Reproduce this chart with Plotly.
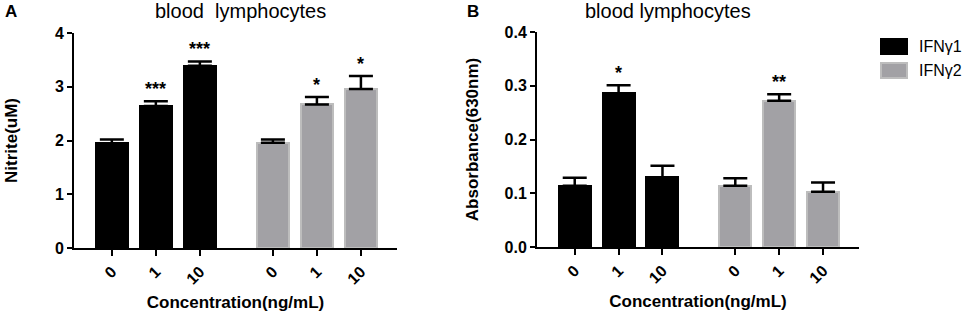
import plotly.graph_objects as go

# ---- data ----
categories = ["0", "1", "10"]
series_names = ["IFNγ1", "IFNγ2"]

nitrite_ifn1 = [1.95, 2.64, 3.39]
nitrite_ifn1_err = [0.07, 0.09, 0.08]
nitrite_ifn2 = [1.96, 2.67, 2.96]
nitrite_ifn2_err = [0.06, 0.14, 0.24]
nitrite_stars_ifn1 = ["", "***", "***"]
nitrite_stars_ifn2 = ["", "*", "*"]

abs_ifn1 = [0.114, 0.286, 0.130]
abs_ifn1_err = [0.015, 0.015, 0.021]
abs_ifn2 = [0.114, 0.272, 0.103]
abs_ifn2_err = [0.014, 0.012, 0.017]
abs_stars_ifn1 = ["", "*", ""]
abs_stars_ifn2 = ["", "**", ""]

# ---- style ----
FONT = "Arial, Liberation Sans, sans-serif"
BLACK = "#000000"
GRAY = "#a2a1a5"
GRAY_EDGE = "#bdbdbd"
GROUP_OFFSET = 3.66
BAR_W = 0.73

W, H = 966, 314
fig = go.Figure()

x1 = [i for i in range(len(categories))]
x2 = [i + GROUP_OFFSET for i in range(len(categories))]

panels = [
    dict(xa="x", ya="y", v1=nitrite_ifn1, e1=nitrite_ifn1_err, v2=nitrite_ifn2, e2=nitrite_ifn2_err,
         s1=nitrite_stars_ifn1, s2=nitrite_stars_ifn2),
    dict(xa="x2", ya="y2", v1=abs_ifn1, e1=abs_ifn1_err, v2=abs_ifn2, e2=abs_ifn2_err,
         s1=abs_stars_ifn1, s2=abs_stars_ifn2),
]

for p in panels:
    for xs, vals, errs, name, fill, edge in [
        (x1, p["v1"], p["e1"], series_names[0], BLACK, BLACK),
        (x2, p["v2"], p["e2"], series_names[1], GRAY, GRAY_EDGE),
    ]:
        fig.add_trace(go.Bar(
            x=xs, y=vals, width=BAR_W, name=name, showlegend=False,
            marker=dict(color=fill, line=dict(color=edge, width=2)),
            error_y=dict(type="data", array=errs, arrayminus=[0] * len(errs), symmetric=False,
                         color=BLACK, thickness=2.5, width=12),
            xaxis=p["xa"], yaxis=p["ya"],
        ))
    for xs, vals, errs, stars in [(x1, p["v1"], p["e1"], p["s1"]), (x2, p["v2"], p["e2"], p["s2"])]:
        for x, v, e, s in zip(xs, vals, errs, stars):
            if s:
                fig.add_annotation(x=x, y=v + e, xref=p["xa"], yref=p["ya"], text=s,
                                   showarrow=False, yanchor="bottom", yshift=0,
                                   font=dict(family=FONT, size=18, color=BLACK, weight="bold"))

tickvals = x1 + x2
ticktext = categories + categories

def xaxis_common(dom, anchor):
    return dict(domain=dom, anchor=anchor, range=[-0.86, 6.48], automargin=False,
                tickvals=tickvals, ticktext=ticktext, tickangle=-45,
                tickfont=dict(family=FONT, size=16, color=BLACK, weight="bold"),
                ticks="outside", ticklen=6, tickwidth=2, tickcolor=BLACK,
                showline=True, linewidth=2, linecolor=BLACK, showgrid=False, zeroline=False,
                title=dict(text="Concentration(ng/mL)", standoff=10,
                           font=dict(family=FONT, size=17, color=BLACK, weight="bold")))

def yaxis_common(dom, anchor, rng, dtick, fmt, title, standoff):
    return dict(domain=dom, anchor=anchor, range=rng, dtick=dtick, tickformat=fmt, automargin=False,
                tickfont=dict(family=FONT, size=16, color=BLACK, weight="bold"),
                ticks="outside", ticklen=5, tickwidth=2, tickcolor=BLACK,
                showline=True, linewidth=2, linecolor=BLACK, showgrid=False, zeroline=False,
                title=dict(text=title, standoff=standoff,
                           font=dict(family=FONT, size=17, color=BLACK, weight="bold")))

fig.update_layout(
    width=W, height=H, margin=dict(l=0, r=0, t=0, b=0, autoexpand=False),
    paper_bgcolor="white", plot_bgcolor="white", showlegend=False,
    bargap=0,
    xaxis=xaxis_common([74 / W, 397 / W], "y"),
    yaxis=yaxis_common([1 - 248 / H, 1 - 33 / H], "x", [0, 4], 1, "d", "Nitrite(uM)", 33),
    xaxis2=xaxis_common([537 / W, 859 / W], "y2"),
    yaxis2=yaxis_common([1 - 247 / H, 1 - 32 / H], "x2", [0, 0.4], 0.1, ".1f", "Absorbance(630nm)", 22),
)

# panel titles and letters
for txt, x in [("blood&nbsp;&nbsp;lymphocytes", 240), ("blood lymphocytes", 668)]:
    fig.add_annotation(x=x / W, y=1 - 11 / H, xref="paper", yref="paper", text=txt, showarrow=False,
                       xanchor="center", yanchor="middle",
                       font=dict(family=FONT, size=20, color=BLACK))
for txt, x in [("A", 3), ("B", 465)]:
    fig.add_annotation(x=x / W, y=1 - 12 / H, xref="paper", yref="paper", text=txt, showarrow=False,
                       xanchor="left", yanchor="middle",
                       font=dict(family=FONT, size=17, color=BLACK, weight="bold"))

# legend
for i, (name, fill, edge) in enumerate([(series_names[0], BLACK, BLACK), (series_names[1], GRAY, GRAY_EDGE)]):
    y0 = 39 + i * 24
    fig.add_shape(type="rect", xref="paper", yref="paper",
                  x0=881 / W, x1=907 / W, y0=1 - (y0 + 15) / H, y1=1 - y0 / H,
                  fillcolor=fill, line=dict(color=edge, width=2))
    fig.add_annotation(x=917 / W, y=1 - (y0 + 7.5) / H, xref="paper", yref="paper", text=name,
                       showarrow=False, xanchor="left", yanchor="middle",
                       font=dict(family=FONT, size=16, color=BLACK))

fig.write_html("out.html", config={"displayModeBar": False},
               post_script="document.body.style.margin='0';")
